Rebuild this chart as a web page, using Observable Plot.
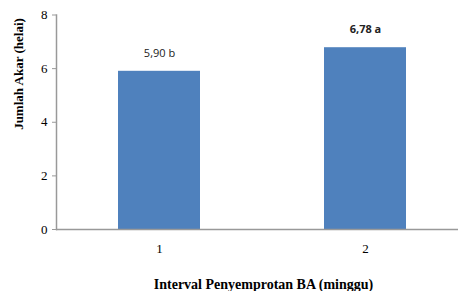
<!DOCTYPE html>
<html><head><meta charset="utf-8">
<script src="https://cdn.jsdelivr.net/npm/d3@7"></script>
<script src="https://cdn.jsdelivr.net/npm/@observablehq/plot@0.6"></script>
<style>body{margin:0;background:#fff;overflow:hidden}</style>
</head><body><div id="chart"></div>
<script>
const categories = ["1", "2"];
const values = [5.90, 6.78];
const labels = ["5,90 b", "6,78 a"];
const boldLabel = [false, true];
const yTicks = [0, 2, 4, 6, 8];

const data = categories.map((c, i) => ({cat: c, v: values[i], label: labels[i], bold: boldLabel[i]}));
const serif = "Liberation Serif";
const sans = "Open Sans";

const chart = Plot.plot({
  width: 458, height: 291,
  marginTop: 14.5, marginBottom: 62, marginLeft: 56, marginRight: 0,
  style: {fontFamily: serif, fontSize: "12px", color: "#000", background: "#fff", overflow: "visible"},
  x: {domain: categories, range: [56, 468], paddingInner: 0.6, paddingOuter: 0.3, label: null},
  y: {domain: [0, 8], ticks: yTicks, label: null},
  marks: [
    Plot.barY(data, {x: "cat", y: "v", fill: "#4F81BD"}),
    Plot.frame({anchor: "left", stroke: "#999", strokeWidth: 1.5}),
    Plot.ruleY([0], {stroke: "#999", strokeWidth: 1.5}),
    Plot.axisY({ticks: yTicks, tickSize: 4, tickPadding: 5, stroke: "#999", fill: "#000", fontFamily: serif, fontSize: 13, label: null}),
    Plot.axisX({tickSize: 0, tickPadding: 14, fontFamily: serif, fontSize: 13, label: null}),
    Plot.text(data.filter(d => !d.bold), {x: "cat", y: "v", text: "label", dy: -18, fontFamily: sans, fontSize: 11, fill: "#222"}),
    Plot.text(data.filter(d => d.bold), {x: "cat", y: "v", text: "label", dy: -18, fontFamily: sans, fontSize: 11, fontWeight: "bold", fill: "#222"}),
    Plot.text(["Interval Penyemprotan BA (minggu)"], {frameAnchor: "bottom", dx: 6, dy: 59, fontFamily: serif, fontSize: 14, fontWeight: "bold"}),
    Plot.text(["Jumlah Akar (helai)"], {frameAnchor: "top-left", textAnchor: "middle", lineAnchor: "middle", dx: -38, dy: 59, rotate: -90, fontFamily: serif, fontSize: 13, fontWeight: "bold"})
  ]
});
document.getElementById("chart").appendChild(chart);
</script></body></html>
